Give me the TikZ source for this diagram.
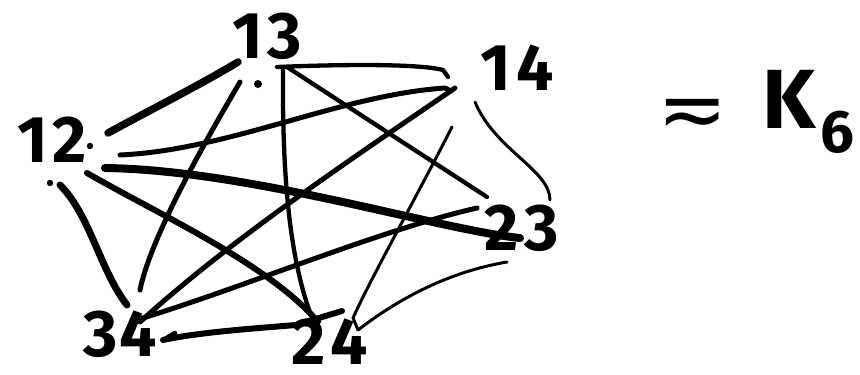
\documentclass[tikz,border=0pt]{standalone}
\usepackage{fontspec}
\setsansfont{Fira Sans}
\newfontfamily\dejavu{DejaVu Sans}
\begin{document}
\begin{tikzpicture}[x=1pt,y=-1pt,line cap=round,line join=round,
  lbl/.style={font=\sffamily\bfseries\fontsize{66}{66}\selectfont,inner sep=0pt},
  thickedge/.style={line width=7.5pt},
  mededge/.style={line width=5pt},
  lightedge/.style={line width=4.3pt},
  thinedge/.style={line width=3pt}]
\useasboundingbox (0,0) rectangle (860,375);
% vertices
\node[lbl] (n12) at (52,140) {1\kern5pt2};
\node[lbl] (n13) at (267,36) {1\kern5pt3};
\node[lbl] (n14) at (517,68) {1\kern6pt4};
\node[lbl] (n23) at (522,228) {2\kern6pt3};
\node[lbl] (n34) at (120,334) {3\kern1pt4};
\node[lbl] (n24) at (330,342) {2\kern5pt4};
% label K6
\node[inner sep=0pt,font=\dejavu\fontsize{84}{84}\selectfont] (sim) at (693,118) {≂};
\node[inner sep=0pt,anchor=base west,font=\sffamily\bfseries\fontsize{84}{84}\selectfont] (kk) at (762,128) {K\kern5pt\raisebox{-24pt}{\fontsize{60}{60}\selectfont 6}};
% edges
\draw[thickedge] ([shift={(56,-7)}]n12.center) .. controls (150,110) and (200,85) .. ([shift={(-29,26)}]n13.center);
\draw[mededge] ([shift={(68,15)}]n12.center) .. controls (230,150) and (340,95) .. ([shift={(-72,20)}]n14.center) -- ++(6,3);
\draw[line width=8pt] ([shift={(53,28)}]n12.center) .. controls (250,170) and (440,230) .. ([shift={(-2,10)}]n23.center);
\draw[line width=7pt] ([shift={(8,45)}]n12.center) .. controls (90,215) and (100,270) .. ([shift={(7,-29)}]n34.center);
\draw[line width=6pt] ([shift={(35,33)}]n12.center) .. controls (160,215) and (270,265) .. ([shift={(-12,-20)}]n24.center);
\draw[lightedge] ([shift={(10,31)}]n13.center) .. controls (350,64) and (420,64) .. ([shift={(-74,2)}]n14.center) -- ([shift={(-69,9)}]n14.center);
\draw[lightedge] ([shift={(20,31)}]n13.center) -- ([shift={(-35,-31)}]n23.center);
\draw[lightedge] ([shift={(16,31)}]n13.center) .. controls (282,180) and (290,260) .. ([shift={(-18,-24)}]n24.center);
\draw[mededge] ([shift={(-27,46)}]n13.center) .. controls (200,150) and (150,240) .. ([shift={(20,-44)}]n34.center);
\draw[mededge] ([shift={(-62,20)}]n14.center) .. controls (350,160) and (230,240) .. ([shift={(20,-12)}]n34.center);
\draw[thinedge] ([shift={(-65,59)}]n14.center) .. controls (420,190) and (370,280) .. (353,318) -- ([shift={(28,-12)}]n24.center);
\draw[thinedge] ([shift={(28,-12)}]n24.center) .. controls (410,290) and (460,270) .. ([shift={(-15,34)}]n23.center);
\draw[thinedge] ([shift={(-42,34)}]n14.center) .. controls (495,150) and (550,170) .. ([shift={(28,-28)}]n23.center);
\draw[mededge] ([shift={(23,-16)}]n34.center) .. controls (250,285) and (380,230) .. ([shift={(-45,-20)}]n23.center);
\draw[line width=6pt] ([shift={(43,6)}]n34.center) .. controls (200,332) and (260,328) .. (296,325) -- ([shift={(12,-31)}]n24.center);
\draw[line width=4.5pt] ([shift={(55,-1)}]n34.center) -- ([shift={(43,6)}]n34.center);
% pen dots
\fill (258,84) circle (4);
\fill (90,146) circle (3.2);
\fill (50,183) circle (3.2);
\end{tikzpicture}
\end{document}
